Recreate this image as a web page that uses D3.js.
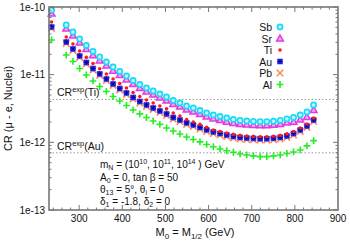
<!DOCTYPE html>
<html>
<head>
<meta charset="utf-8">
<script src="https://cdn.jsdelivr.net/npm/d3@7"></script>
<style>
  body { margin: 0; background: #fff; }
  text { font-family: "Liberation Sans", Arial, sans-serif; fill: #111; }
</style>
</head>
<body>
<div id="chart"></div>
<script>
// M0 = M1/2 values (GeV)
const mass = [236, 270, 285.5, 301, 316.5, 332, 347.5, 363, 378.5, 394, 409.5, 425, 440.5, 456,
  471.5, 487, 502.5, 518, 533.5, 549, 564.5, 580, 595.5, 611, 626.5, 642, 657.5, 673, 688.5,
  704, 719.5, 735, 750.5, 766, 781.5, 797, 812.5, 828, 843.5];

// conversion rates per nucleus
const crSb = [9.03e-11, 5.42e-11, 4.27e-11, 3.37e-11, 2.70e-11, 2.20e-11, 1.83e-11, 1.54e-11, 1.30e-11,
  1.115e-11, 9.57e-12, 8.21e-12, 7.16e-12, 6.36e-12, 5.74e-12, 5.19e-12, 4.68e-12, 4.16e-12, 3.82e-12,
  3.45e-12, 3.22e-12, 2.96e-12, 2.72e-12, 2.54e-12, 2.41e-12, 2.29e-12, 2.18e-12, 2.11e-12, 2.07e-12,
  2.04e-12, 2.02e-12, 2.02e-12, 2.05e-12, 2.11e-12, 2.22e-12, 2.33e-12, 2.54e-12, 2.81e-12, 3.57e-12];
const crSr = [8.02e-11, 4.81e-11, 3.79e-11, 2.99e-11, 2.40e-11, 1.95e-11, 1.63e-11, 1.37e-11, 1.15e-11,
  9.90e-12, 8.50e-12, 7.29e-12, 6.36e-12, 5.65e-12, 5.10e-12, 4.61e-12, 4.16e-12, 3.69e-12, 3.39e-12,
  3.06e-12, 2.86e-12, 2.63e-12, 2.42e-12, 2.26e-12, 2.14e-12, 2.03e-12, 1.94e-12, 1.87e-12, 1.84e-12,
  1.81e-12, 1.79e-12, 1.79e-12, 1.82e-12, 1.87e-12, 1.97e-12, 2.03e-12, 2.18e-12, 2.37e-12, 3.01e-12];
const crTi = [6.01e-11, 3.60e-11, 2.84e-11, 2.24e-11, 1.80e-11, 1.46e-11, 1.22e-11, 1.024e-11, 8.64e-12,
  7.42e-12, 6.36e-12, 5.46e-12, 4.76e-12, 4.23e-12, 3.82e-12, 3.45e-12, 3.12e-12, 2.72e-12, 2.45e-12,
  2.18e-12, 2.00e-12, 1.84e-12, 1.67e-12, 1.525e-12, 1.445e-12, 1.375e-12, 1.309e-12, 1.267e-12, 1.242e-12,
  1.224e-12, 1.212e-12, 1.212e-12, 1.231e-12, 1.267e-12, 1.332e-12, 1.446e-12, 1.631e-12, 1.867e-12, 2.29e-12];
const crAu = [5.07e-11, 3.04e-11, 2.40e-11, 1.89e-11, 1.515e-11, 1.234e-11, 1.027e-11, 8.64e-12, 7.29e-12,
  6.26e-12, 5.37e-12, 4.61e-12, 4.02e-12, 3.57e-12, 3.22e-12, 2.91e-12, 2.63e-12, 2.33e-12, 2.14e-12,
  1.94e-12, 1.81e-12, 1.66e-12, 1.53e-12, 1.425e-12, 1.35e-12, 1.285e-12, 1.223e-12, 1.184e-12, 1.161e-12,
  1.144e-12, 1.133e-12, 1.133e-12, 1.150e-12, 1.184e-12, 1.245e-12, 1.351e-12, 1.524e-12, 1.745e-12, 2.14e-12];
const crPb = [4.82e-11, 2.89e-11, 2.28e-11, 1.80e-11, 1.44e-11, 1.17e-11, 9.76e-12, 8.21e-12, 6.93e-12,
  5.95e-12, 5.10e-12, 4.38e-12, 3.82e-12, 3.39e-12, 3.06e-12, 2.76e-12, 2.50e-12, 2.21e-12, 2.03e-12,
  1.84e-12, 1.72e-12, 1.58e-12, 1.45e-12, 1.35e-12, 1.28e-12, 1.22e-12, 1.16e-12, 1.12e-12, 1.10e-12,
  1.09e-12, 1.08e-12, 1.08e-12, 1.09e-12, 1.12e-12, 1.18e-12, 1.28e-12, 1.45e-12, 1.66e-12, 2.03e-12];
const crAl = [3.26e-11, 1.95e-11, 1.567e-11, 1.235e-11, 9.90e-12, 8.07e-12, 6.69e-12, 5.65e-12, 4.76e-12,
  4.09e-12, 3.51e-12, 3.01e-12, 2.63e-12, 2.33e-12, 2.07e-12, 1.84e-12, 1.63e-12, 1.47e-12, 1.33e-12,
  1.20e-12, 1.104e-12, 1.014e-12, 9.31e-13, 8.61e-13, 7.99e-13, 7.51e-13, 7.14e-13, 6.74e-13, 6.51e-13,
  6.30e-13, 6.15e-13, 6.15e-13, 6.30e-13, 6.51e-13, 6.85e-13, 7.21e-13, 7.72e-13, 8.85e-13, 1.06e-12];

// experimental bounds
const boundNames = ["Ti", "Au"];
const boundValues = [4.3e-12, 7.0e-13];

const xTicks = [300, 400, 500, 600, 700, 800, 900];
const yTicks = [1e-13, 1e-12, 1e-11, 1e-10];
const yTickLabels = ["1e-13", "1e-12", "1e-11", "1e-10"];

const width = 350, height = 245;
const margin = { top: 7, right: 12, bottom: 35, left: 49 };

const svg = d3.select("#chart").append("svg")
  .attr("width", width)
  .attr("height", height);

const x = d3.scaleLinear()
  .domain([230, 900])
  .range([margin.left, width - margin.right]);

const y = d3.scaleLog()
  .domain([1e-13, 1e-10])
  .range([height - margin.bottom, margin.top]);

const x0 = x.range()[0], x1 = x.range()[1];
const yb = y.range()[0], yt = y.range()[1];
const axisColor = "#777";

// experimental bound lines
svg.selectAll(".bound")
  .data(boundValues)
  .enter()
  .append("line")
  .attr("x1", x0).attr("x2", x1)
  .attr("y1", d => y(d)).attr("y2", d => y(d))
  .attr("stroke", "#999")
  .attr("stroke-width", 1)
  .attr("stroke-dasharray", "1.5,2");

boundNames.forEach((name, i) => {
  const t = svg.append("text")
    .attr("x", 57)
    .attr("y", y(boundValues[i]) - 3)
    .attr("font-size", "10.5px");
  t.append("tspan").text("CR");
  t.append("tspan").attr("font-size", "7.5px").attr("dy", -4).text("exp");
  t.append("tspan").attr("dy", 4).text("(" + name + ")");
});

// parameter block
const info = svg.append("g").attr("font-size", "10px");
{
  const t1 = info.append("text").attr("x", 100).attr("y", 168);
  t1.append("tspan").text("m");
  t1.append("tspan").attr("font-size", "7px").attr("dy", 2).text("N");
  t1.append("tspan").attr("dy", -2).text(" = (10");
  t1.append("tspan").attr("font-size", "7px").attr("dy", -4).text("10");
  t1.append("tspan").attr("dy", 4).text(", 10");
  t1.append("tspan").attr("font-size", "7px").attr("dy", -4).text("11");
  t1.append("tspan").attr("dy", 4).text(", 10");
  t1.append("tspan").attr("font-size", "7px").attr("dy", -4).text("14");
  t1.append("tspan").attr("dy", 4).text(" ) GeV");

  const t2 = info.append("text").attr("x", 100).attr("y", 180.5);
  t2.append("tspan").text("A");
  t2.append("tspan").attr("font-size", "7px").attr("dy", 2).text("0");
  t2.append("tspan").attr("dy", -2).text(" = 0, tan \u03b2 = 50");

  const t3 = info.append("text").attr("x", 100).attr("y", 193);
  t3.append("tspan").text("\u03b8");
  t3.append("tspan").attr("font-size", "7px").attr("dy", 2).text("13");
  t3.append("tspan").attr("dy", -2).text(" = 5\u00b0, \u03b8");
  t3.append("tspan").attr("font-size", "7px").attr("dy", 2).text("i");
  t3.append("tspan").attr("dy", -2).text(" = 0");

  const t4 = info.append("text").attr("x", 100).attr("y", 205);
  t4.append("tspan").text("\u03b4");
  t4.append("tspan").attr("font-size", "7px").attr("dy", 2).text("1");
  t4.append("tspan").attr("dy", -2).text(" = -1.8, \u03b4");
  t4.append("tspan").attr("font-size", "7px").attr("dy", 2).text("2");
  t4.append("tspan").attr("dy", -2).text(" = 0");
}

// marker drawing helpers
function drawMarker(g, kind, cx, cy) {
  if (kind === "Sb") {
    g.append("circle").attr("cx", cx).attr("cy", cy).attr("r", 2.6)
      .attr("fill", "#bff6ff").attr("stroke", "#19d9f5").attr("stroke-width", 1.6);
  } else if (kind === "Sr") {
    g.append("path")
      .attr("d", `M${cx},${cy - 3.4}L${cx + 3.4},${cy + 2.6}L${cx - 3.4},${cy + 2.6}Z`)
      .attr("fill", "#f7a8f7").attr("stroke", "#e03ce0").attr("stroke-width", 1.5);
  } else if (kind === "Ti") {
    g.append("circle").attr("cx", cx).attr("cy", cy).attr("r", 1.8)
      .attr("fill", "#ff1a1a");
  } else if (kind === "Au") {
    g.append("rect").attr("x", cx - 2.8).attr("y", cy - 2.8).attr("width", 5.6).attr("height", 5.6)
      .attr("fill", "#3a3aff");
    g.append("path")
      .attr("d", `M${cx - 2.6},${cy}H${cx + 2.6}M${cx},${cy - 2.6}V${cy + 2.6}M${cx - 2},${cy - 2}L${cx + 2},${cy + 2}M${cx - 2},${cy + 2}L${cx + 2},${cy - 2}`)
      .attr("stroke", "#00009a").attr("stroke-width", 0.9);
  } else if (kind === "Pb") {
    g.append("path")
      .attr("d", `M${cx - 3.2},${cy - 3.2}L${cx + 3.2},${cy + 3.2}M${cx - 3.2},${cy + 3.2}L${cx + 3.2},${cy - 3.2}`)
      .attr("stroke", "#ff8a50").attr("stroke-width", 1.6);
  } else if (kind === "Al") {
    g.append("path")
      .attr("d", `M${cx - 3.4},${cy}H${cx + 3.4}M${cx},${cy - 3.4}V${cy + 3.4}`)
      .attr("stroke", "#22ee22").attr("stroke-width", 1.6);
  }
}

// series in drawing order (bottom first)
const series = [
  { name: "Al", values: crAl },
  { name: "Pb", values: crPb },
  { name: "Au", values: crAu },
  { name: "Ti", values: crTi },
  { name: "Sr", values: crSr },
  { name: "Sb", values: crSb }
];

series.forEach(s => {
  const g = svg.append("g").attr("class", "series-" + s.name);
  s.values.forEach((v, i) => drawMarker(g, s.name, x(mass[i]), y(v)));
});

// legend
const legendOrder = ["Sb", "Sr", "Ti", "Au", "Pb", "Al"];
const legend = svg.append("g");
legendOrder.forEach((name, i) => {
  const ly = 27 + i * 11.5;
  legend.append("text")
    .attr("x", 272).attr("y", ly + 4)
    .attr("text-anchor", "end")
    .attr("font-size", "10.5px")
    .text(name);
  drawMarker(legend, name, 280, ly);
});

// frame
svg.append("rect")
  .attr("x", x0).attr("y", yt)
  .attr("width", x1 - x0).attr("height", yb - yt)
  .attr("fill", "none")
  .attr("stroke", axisColor)
  .attr("stroke-width", 1.6);

// x ticks (inward, bottom and top)
const xMinor = d3.range(240, 900, 20).filter(v => v % 100 !== 0);
const xt = svg.append("g").attr("stroke", axisColor).attr("stroke-width", 1);
xt.selectAll(".xmaj").data(xTicks.filter(v => v < 900)).enter().append("path")
  .attr("d", d => `M${x(d)},${yb}v-5M${x(d)},${yt}v5`);
xt.selectAll(".xmin").data(xMinor).enter().append("path")
  .attr("d", d => `M${x(d)},${yb}v-2.5M${x(d)},${yt}v2.5`);

svg.append("g").selectAll("text")
  .data(xTicks)
  .enter()
  .append("text")
  .attr("x", d => x(d))
  .attr("y", yb + 12)
  .attr("text-anchor", "middle")
  .attr("font-size", "10px")
  .text(d => d);

// y ticks (log, inward on left and right)
const yMinor = [];
[1e-13, 1e-12, 1e-11].forEach(dec => {
  for (let k = 2; k <= 9; k++) yMinor.push(dec * k);
});
const ytg = svg.append("g").attr("stroke", axisColor).attr("stroke-width", 1);
ytg.selectAll(".ymaj").data(yTicks).enter().append("path")
  .attr("d", d => `M${x0},${y(d)}h5M${x1},${y(d)}h-5`);
ytg.selectAll(".ymin").data(yMinor).enter().append("path")
  .attr("d", d => `M${x0},${y(d)}h2.5M${x1},${y(d)}h-2.5`);

svg.append("g").selectAll("text")
  .data(yTicks)
  .enter()
  .append("text")
  .attr("x", x0 - 4)
  .attr("y", d => y(d) + 3.5)
  .attr("text-anchor", "end")
  .attr("font-size", "10px")
  .text((d, i) => yTickLabels[i]);

// axis titles
const xt2 = svg.append("text")
  .attr("x", 195).attr("y", 236)
  .attr("text-anchor", "middle")
  .attr("font-size", "11px");
xt2.append("tspan").text("M");
xt2.append("tspan").attr("font-size", "8px").attr("dy", 2.5).text("0");
xt2.append("tspan").attr("dy", -2.5).text(" = M");
xt2.append("tspan").attr("font-size", "8px").attr("dy", 2.5).text("1/2");
xt2.append("tspan").attr("dy", -2.5).text("  (GeV)");

svg.append("text")
  .attr("transform", `translate(12,${(yt + yb) / 2}) rotate(-90)`)
  .attr("text-anchor", "middle")
  .attr("font-size", "11px")
  .text("CR (\u03bc - e, Nuclei)");
</script>
</body>
</html>
